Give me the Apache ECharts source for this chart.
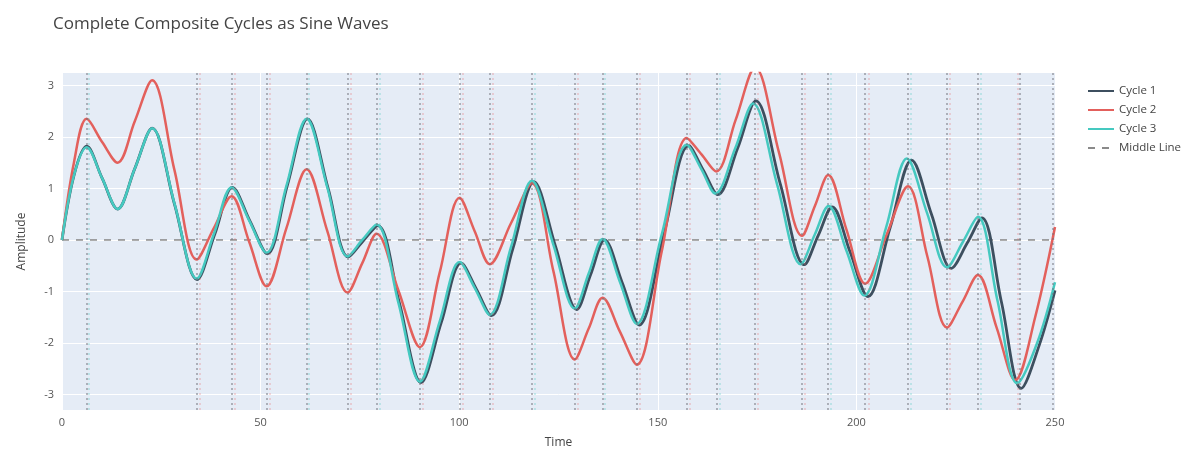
<!DOCTYPE html>
<html><head><meta charset="utf-8">
<script src="https://cdn.jsdelivr.net/npm/echarts@6/dist/echarts.min.js"></script>
<style>html,body{margin:0;padding:0;background:#fff}#c{width:1184px;height:454px}</style>
</head><body><div id="c"></div>
<script>
const titleText = 'Complete Composite Cycles as Sine Waves';
const seriesNames = ['Cycle 1', 'Cycle 2', 'Cycle 3', 'Middle Line'];
const xTicks = [0, 50, 100, 150, 200, 250];
const yTicks = [-3, -2, -1, 0, 1, 2, 3];

const cycle1X = [0,3,6.2,10.1,14,18.3,22.7,28.3,34,38.5,42.9,47.3,51.7,56.7,61.8,67,72.1,75.8,79.5,85,90.4,95.5,100.5,104.3,108.1,113.5,118.8,124.2,129.6,133.1,136.6,141,145.3,151.5,157.8,161.5,165.1,170.1,174.7,180.8,186.9,190.4,193.9,198.4,202.9,208.5,213.9,218.9,223.9,227.9,231.6,236.5,241.5,246,250];
const cycle1Y = [0,1.25,1.82,1.2,0.6,1.38,2.17,0.7,-0.77,0.12,1.02,0.37,-0.27,1.05,2.35,1.0,-0.33,-0.02,0.28,-1.24,-2.77,-1.6,-0.45,-0.95,-1.47,-0.17,1.13,-0.11,-1.35,-0.67,0.0,-0.82,-1.65,0.1,1.83,1.35,0.88,1.78,2.7,1.1,-0.48,0.09,0.64,-0.23,-1.1,0.24,1.55,0.5,-0.55,-0.06,0.43,-1.2,-2.88,-2.05,-0.98];

const cycle2X = [0,3,6.2,10.1,14,18.3,22.7,28.3,33.9,38.3,42.7,47.1,51.5,56.5,61.6,66.8,71.9,75.6,79.2,84.7,90.1,95.1,100.1,103.9,107.7,113,118.3,123.7,129.1,132.6,136.1,140.4,144.7,151,157.3,161,164.7,169.6,174.5,180.5,186.3,189.6,192.9,197.5,202.2,207.6,213,217.9,222.8,226.7,230.6,235.3,240,245,250];
const cycle2Y = [0,1.5,2.35,1.9,1.5,2.3,3.1,1.36,-0.38,0.24,0.85,-0.03,-0.9,0.23,1.37,0.17,-1.02,-0.45,0.12,-0.98,-2.08,-0.63,0.82,0.17,-0.47,0.32,1.1,-0.6,-2.32,-1.72,-1.12,-1.77,-2.42,-0.22,1.98,1.66,1.33,2.33,3.35,1.7,0.08,0.67,1.26,0.2,-0.85,0.1,1.04,-0.33,-1.7,-1.2,-0.68,-1.7,-2.72,-1.5,0.25];

const cycle3X = [0,3,6.2,10.1,14,18.3,22.7,28.3,33.9,38.3,42.7,47.1,51.5,56.5,61.6,66.8,71.9,75.6,79.2,84.7,90.1,95.1,100.1,103.9,107.7,113,118.3,123.7,129.1,132.6,136.1,140.4,144.7,151,157.3,161,164.5,169.5,174,180,186,189.5,193,197.5,202,207.5,212.7,217.8,222.8,226.8,230.6,235.5,240.5,245.5,250];
const cycle3Y = [0,1.25,1.8,1.2,0.6,1.38,2.17,0.71,-0.75,0.13,1.02,0.38,-0.25,1.05,2.35,1.02,-0.32,0.0,0.3,-1.22,-2.75,-1.58,-0.43,-0.93,-1.45,-0.15,1.15,-0.09,-1.33,-0.65,0.02,-0.8,-1.63,0.11,1.85,1.37,0.9,1.78,2.65,1.09,-0.47,0.1,0.66,-0.21,-1.08,0.25,1.58,0.52,-0.53,-0.04,0.45,-1.17,-2.78,-2.0,-0.82];

const middleX = [0, 250];
const middleY = [0, 0];

const vlinesGray = [6.2,33.9,42.7,51.5,61.6,71.9,79.2,90.1,100.1,107.7,118.3,129.1,136.1,144.7,157.3,164.9,174.4,186.3,192.9,202.2,213.0,222.8,230.6,241.2,249.5];
const vlinesPink = [34.6,43.4,52.2,72.6,90.8,100.8,108.4,129.8,145.4,158,175.1,187,203,223.5,240.5];
const vlinesCyan = [6.8,62.2,79.9,118.9,136.7,165.5,193.5,213.6,231.2];

const colors = ['#3d4f5f', '#e3605c', '#45c9c0', '#8a8a8a'];

const pairs = (xs, ys) => xs.map((x, i) => [x, ys[i]]);
const vl = (arr) => arr.map(v => ({xAxis: v}));

const chart = echarts.init(document.getElementById('c'), null, {renderer: 'canvas'});
const font = 'Open Sans, Noto Sans, sans-serif';
chart.setOption({
  animation: false,
  backgroundColor: '#fff',
  color: colors,
  title: {
    text: titleText, left: 48, top: 11,
    textStyle: {fontSize: 17, fontWeight: 'normal', color: '#444', fontFamily: font}
  },
  legend: {
    orient: 'vertical', left: 1082, top: 80, itemWidth: 26, itemHeight: 10, itemGap: 7,
    data: seriesNames,
    itemStyle: {opacity: 0},
    textStyle: {fontSize: 11.5, color: '#444', fontFamily: font}
  },
  grid: {left: 62, right: 129, top: 73, bottom: 44, show: true, backgroundColor: '#E5ECF6', borderWidth: 0},
  xAxis: {
    type: 'value', min: 0, max: 250, interval: 50,
    name: 'Time', nameLocation: 'middle', nameGap: 27,
    nameTextStyle: {fontSize: 12, color: '#444', fontFamily: font},
    axisLine: {show: false}, axisTick: {show: false},
    axisLabel: {fontSize: 11, color: '#555', fontFamily: font, margin: 7},
    splitLine: {show: true, lineStyle: {color: '#fff', width: 1}}
  },
  yAxis: {
    type: 'value', min: -3.3, max: 3.24,
    name: 'Amplitude', nameLocation: 'middle', nameGap: 34, nameRotate: 90,
    nameTextStyle: {fontSize: 12, color: '#444', fontFamily: font},
    axisLine: {show: false},
    axisTick: {show: false, customValues: yTicks},
    axisLabel: {customValues: yTicks, fontSize: 11, color: '#555', fontFamily: font, margin: 8},
    splitLine: {show: true, lineStyle: {color: '#fff', width: 1}}
  },
  series: [
    {
      name: seriesNames[0], type: 'line', data: pairs(cycle1X, cycle1Y), smooth: 0.35, symbol: 'none',
      lineStyle: {width: 2.8, color: colors[0]}, z: 3,
      markLine: {silent: true, symbol: 'none', label: {show: false},
        lineStyle: {type: [2, 3], color: 'rgba(110,110,120,0.6)', width: 1.6}, data: vl(vlinesGray)}
    },
    {
      name: seriesNames[1], type: 'line', data: pairs(cycle2X, cycle2Y), smooth: 0.35, symbol: 'none',
      lineStyle: {width: 2.5, color: colors[1]}, z: 3,
      markLine: {silent: true, symbol: 'none', label: {show: false},
        lineStyle: {type: [2, 3], color: 'rgba(227,96,92,0.3)', width: 1.5}, data: vl(vlinesPink)}
    },
    {
      name: seriesNames[2], type: 'line', data: pairs(cycle3X, cycle3Y), smooth: 0.35, symbol: 'none',
      lineStyle: {width: 2.5, color: colors[2]}, z: 4,
      markLine: {silent: true, symbol: 'none', label: {show: false},
        lineStyle: {type: [2, 3], color: 'rgba(69,201,192,0.35)', width: 1.5}, data: vl(vlinesCyan)}
    },
    {
      name: seriesNames[3], type: 'line', data: pairs(middleX, middleY), symbol: 'none',
      lineStyle: {width: 1.5, color: colors[3], type: [7, 7]}, z: 2
    }
  ]
});
</script></body></html>
